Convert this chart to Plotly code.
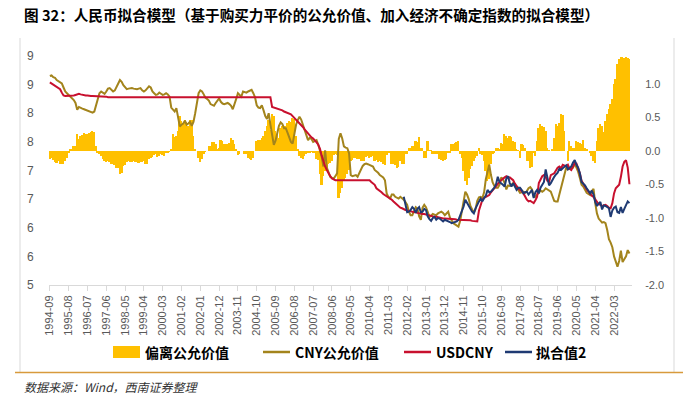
import plotly.graph_objects as go
import pandas as pd

# ---------------- data (monthly, 1994-09 .. 2022-12) ----------------
months = pd.date_range("1994-09-01", periods=340, freq="MS").strftime("%Y-%m").tolist()

tick_labels = ["1994-09", "1995-08", "1996-07", "1997-06", "1998-05", "1999-04", "2000-03",
               "2001-02", "2002-01", "2002-12", "2003-11", "2004-10", "2005-09", "2006-08",
               "2007-07", "2008-06", "2009-05", "2010-04", "2011-03", "2012-02", "2013-01",
               "2013-12", "2014-11", "2015-10", "2016-09", "2017-08", "2018-07", "2019-06",
               "2020-05", "2021-04", "2022-03"]

left_tick_vals = [5, 5.5, 6, 6.5, 7, 7.5, 8, 8.5, 9]
left_tick_text = ["5", "6", "6", "7", "7", "8", "8", "9", "9"]
right_tick_vals = [-2.0, -1.5, -1.0, -0.5, 0.0, 0.5, 1.0]
right_tick_text = ["-2.0", "-1.5", "-1.0", "-0.5", "0.0", "0.5", "1.0"]

# 偏离公允价值 (right axis)
deviation = [
    -0.12, -0.10, -0.14, -0.17,
    -0.18, -0.15, -0.20, -0.19, -0.20, -0.15, -0.10, -0.03, 0.02, 0.03, 0.07, 0.07,
    0.25, 0.18, 0.22, 0.24, 0.27, 0.26, 0.25, 0.27, 0.29, 0.30, 0.28, 0.08,
    -0.02, -0.05, -0.08, -0.12, -0.15, -0.16, -0.15, -0.17, -0.19, -0.20, -0.21, -0.25,
    -0.26, -0.34, -0.33, -0.23, -0.21, -0.16, -0.15, -0.16, -0.16, -0.15, -0.17, -0.16,
    -0.18, -0.17, -0.16, -0.15, -0.19, -0.19, -0.12, -0.10, -0.09, -0.06, -0.05, -0.09,
    -0.08, -0.05, -0.06, -0.07, -0.03, -0.02, -0.01, 0.02, 0.25, 0.21, 0.23, 0.30,
    0.52, 0.45, 0.42, 0.47, 0.44, 0.37, 0.46, 0.47, 0.22, 0.03, 0.00, -0.10,
    -0.16, -0.12, -0.05, -0.01, 0.00, 0.07, 0.07, 0.14, 0.13, 0.11, 0.02, 0.05,
    0.16, 0.15, 0.11, 0.10, 0.11, 0.12, 0.19, 0.16, 0.10, 0.03, -0.06, -0.04,
    0.00, 0.00, -0.05, -0.05, -0.10, -0.12, -0.13, -0.11, 0.00, 0.15, 0.16, 0.17,
    0.19, 0.22, 0.30, 0.37, 0.46, 0.32, 0.55, 0.52, 0.30, 0.25, 0.20, 0.35,
    0.37, 0.34, 0.38, 0.42, 0.45, 0.44, 0.50, 0.48, 0.22, 0.02, -0.08, -0.11,
    -0.12, -0.08, -0.04, -0.02, -0.02, -0.01, -0.02, -0.03, -0.12, -0.14, -0.35, -0.50,
    -0.38, -0.30, -0.25, -0.20, -0.18, -0.15, -0.06, -0.05, -0.06, -0.70, -0.62, -0.55,
    -0.45, -0.40, -0.35, -0.28, -0.15, -0.13, -0.10, -0.10, -0.12, -0.12, -0.15, -0.15,
    -0.15, -0.09, -0.08, -0.10, -0.09, -0.08, -0.15, -0.14, -0.16, -0.15, -0.17, -0.20,
    -0.21, -0.06, -0.02, -0.03, -0.20, -0.19, -0.21, -0.25, -0.24, -0.15, -0.20, -0.19,
    -0.05, -0.04, 0.05, 0.04, 0.08, 0.07, 0.15, 0.14, 0.21, 0.05, 0.04, -0.11,
    -0.10, 0.15, 0.01, 0.01, -0.05, -0.05, -0.04, -0.05, -0.12, -0.13, -0.15, -0.14,
    -0.12, -0.03, -0.02, 0.10, 0.11, 0.12, 0.13, 0.15, -0.05, -0.10, -0.30, -0.45,
    -0.50, -0.40, -0.27, -0.22, -0.15, -0.10, -0.08, 0.05, -0.05, -0.06, -0.15, -0.30,
    -0.45, -0.42, -0.20, -0.05, -0.02, 0.05, 0.05, 0.02, 0.12, 0.11, 0.25, 0.22,
    0.20, 0.22, 0.21, 0.15, 0.14, 0.02, 0.01, -0.10, 0.10, 0.09, 0.05, -0.15,
    -0.15, -0.25, -0.24, -0.02, -0.08, 0.15, 0.35, 0.40, 0.38, 0.36, 0.30, 0.05,
    0.01, 0.00, 0.02, 0.20, 0.40, 0.38, 0.42, 0.55, 0.53, 0.30, 0.00, -0.15,
    0.15, 0.08, 0.05, 0.05, 0.15, 0.13, 0.12, 0.10, 0.17, 0.05, 0.02, 0.00,
    -0.03, -0.08, -0.15, -0.18, 0.15, 0.35, 0.40, 0.38, 0.28, 0.45, 0.55, 0.62,
    0.70, 0.78, 1.00, 1.08, 1.30, 1.38, 1.40, 1.40, 1.39, 1.40, 1.39, 1.38,
]

# CNY公允价值 (left axis)
cny_fair = [
    8.65, 8.66, 8.63, 8.62,
    8.58, 8.56, 8.55, 8.52, 8.45, 8.38, 8.35, 8.32, 8.29, 8.26, 8.23, 8.18,
    8.06, 8.11, 8.09, 8.08, 8.07, 8.06, 8.05, 8.04, 8.02, 8.01, 8.03, 8.15,
    8.28, 8.35, 8.38, 8.36, 8.34, 8.38, 8.43, 8.44, 8.40, 8.38, 8.40, 8.45,
    8.52, 8.58, 8.55, 8.49, 8.45, 8.42, 8.43, 8.44, 8.44, 8.43, 8.42, 8.42,
    8.43, 8.44, 8.40, 8.38, 8.40, 8.43, 8.47, 8.45, 8.38, 8.35, 8.32, 8.33,
    8.36, 8.34, 8.32, 8.33, 8.35, 8.33, 8.29, 8.10, 8.06, 8.03, 8.09, 7.90,
    7.77, 7.80, 7.82, 7.87, 7.80, 7.82, 7.85, 7.78, 7.85, 8.00, 8.17, 8.35,
    8.40, 8.38, 8.33, 8.27, 8.25, 8.22, 8.16, 8.14, 8.13, 8.18, 8.23, 8.26,
    8.20, 8.17, 8.16, 8.17, 8.18, 8.16, 8.13, 8.07, 8.15, 8.25, 8.35, 8.32,
    8.29, 8.38, 8.37, 8.36, 8.38, 8.40, 8.41, 8.35, 8.28, 8.14, 8.10, 8.09,
    8.14, 8.05, 7.95, 7.90, 8.00, 7.80, 7.62, 7.45, 7.52, 7.68, 7.78, 7.84,
    7.81, 7.74, 7.74, 7.66, 7.56, 7.50, 7.47, 7.62, 7.80, 7.88, 7.94, 7.89,
    7.80, 7.68, 7.60, 7.53, 7.57, 7.55, 7.50, 7.52, 7.53, 7.45, 7.36, 7.24,
    7.07, 7.35, 7.05, 6.95, 6.89, 6.87, 6.86, 6.90, 6.95, 7.55, 7.65, 7.56,
    7.42, 7.40, 7.39, 7.30, 6.92, 6.90, 6.91, 6.92, 6.89, 6.95, 7.01, 7.08,
    7.11, 7.12, 7.11, 7.10, 7.09, 7.07, 7.01, 6.99, 6.96, 6.92, 6.90, 6.88,
    6.83, 6.60, 6.54, 6.51, 6.58, 6.58, 6.54, 6.52, 6.51, 6.54, 6.52, 6.49,
    6.45, 6.40, 6.28, 6.22, 6.22, 6.30, 6.36, 6.33, 6.20, 6.14, 6.35, 6.40,
    6.36, 6.28, 6.19, 6.21, 6.24, 6.23, 6.22, 6.25, 6.26, 6.28, 6.26, 6.22,
    6.25, 6.28, 6.18, 6.12, 6.08, 6.06, 6.04, 6.02, 6.12, 6.28, 6.47, 6.63,
    6.58, 6.50, 6.38, 6.32, 6.26, 6.33, 6.47, 6.53, 6.54, 6.52, 6.62, 6.85,
    6.97, 7.10, 6.92, 6.79, 6.73, 6.70, 6.70, 6.75, 6.88, 6.85, 6.78, 6.67,
    6.74, 6.73, 6.75, 6.78, 6.73, 6.70, 6.66, 6.61, 6.62, 6.63, 6.61, 6.64,
    6.69, 6.71, 6.67, 6.55, 6.54, 6.58, 6.60, 6.65, 6.63, 6.65, 6.69, 6.67,
    6.65, 6.63, 6.55, 6.47, 6.46, 6.46, 6.58, 6.70, 6.80, 6.90, 7.05, 7.02,
    7.03, 7.04, 7.05, 7.12, 7.05, 6.98, 6.87, 6.75, 6.72, 6.67, 6.61, 6.59,
    6.57, 6.64, 6.68, 6.43, 6.25, 6.16, 6.12, 6.09, 6.10, 6.08, 5.96, 5.80,
    5.74, 5.66, 5.50, 5.40, 5.32, 5.42, 5.60, 5.40, 5.45, 5.50, 5.61, 5.55,
]

# USDCNY (left axis)
usdcny = [
    8.54, 8.52, 8.50, 8.48,
    8.46, 8.45, 8.42, 8.36, 8.31, 8.30, 8.30, 8.30, 8.30, 8.31, 8.31, 8.32,
    8.33, 8.34, 8.33, 8.32, 8.32, 8.31, 8.31, 8.30, 8.30, 8.30, 8.30, 8.30,
    8.29, 8.29, 8.29, 8.29, 8.29, 8.29, 8.28, 8.28, 8.28, 8.28, 8.28, 8.28,
    8.28, 8.28, 8.28, 8.28, 8.28, 8.28, 8.28, 8.28, 8.28, 8.28, 8.28, 8.28,
    8.28, 8.28, 8.28, 8.28, 8.28, 8.28, 8.28, 8.28, 8.28, 8.28, 8.28, 8.28,
    8.28, 8.28, 8.28, 8.28, 8.28, 8.28, 8.28, 8.28, 8.28, 8.28, 8.28, 8.28,
    8.28, 8.28, 8.28, 8.28, 8.28, 8.28, 8.28, 8.28, 8.28, 8.28, 8.28, 8.28,
    8.28, 8.28, 8.28, 8.28, 8.28, 8.28, 8.28, 8.28, 8.28, 8.28, 8.28, 8.28,
    8.28, 8.28, 8.28, 8.28, 8.28, 8.28, 8.28, 8.28, 8.28, 8.28, 8.28, 8.28,
    8.28, 8.28, 8.28, 8.28, 8.28, 8.28, 8.28, 8.28, 8.28, 8.28, 8.28, 8.28,
    8.28, 8.28, 8.28, 8.28, 8.28, 8.28, 8.11, 8.10, 8.09, 8.08, 8.08, 8.07,
    8.05, 8.03, 8.02, 8.01, 8.00, 7.98, 7.95, 7.92, 7.89, 7.86, 7.83, 7.80,
    7.76, 7.72, 7.68, 7.64, 7.61, 7.58, 7.56, 7.53, 7.49, 7.45, 7.38, 7.26,
    7.14, 7.07, 7.01, 6.95, 6.90, 6.86, 6.84, 6.83, 6.83, 6.83, 6.83, 6.83,
    6.83, 6.83, 6.83, 6.83, 6.83, 6.83, 6.83, 6.83, 6.83, 6.83, 6.83, 6.83,
    6.83, 6.83, 6.83, 6.83, 6.80, 6.78, 6.75, 6.69, 6.67, 6.65, 6.62, 6.59,
    6.57, 6.56, 6.54, 6.51, 6.49, 6.46, 6.43, 6.40, 6.37, 6.35, 6.34, 6.32,
    6.31, 6.30, 6.30, 6.29, 6.28, 6.28, 6.27, 6.26, 6.25, 6.25, 6.24, 6.24,
    6.23, 6.22, 6.22, 6.21, 6.20, 6.19, 6.19, 6.18, 6.17, 6.16, 6.16, 6.16,
    6.16, 6.16, 6.16, 6.16, 6.16, 6.15, 6.14, 6.14, 6.14, 6.13, 6.13, 6.13,
    6.13, 6.13, 6.13, 6.12, 6.12, 6.11, 6.11, 6.30, 6.40, 6.49, 6.52, 6.54,
    6.55, 6.57, 6.62, 6.66, 6.69, 6.72, 6.76, 6.80, 6.83, 6.86, 6.88, 6.90,
    6.87, 6.88, 6.86, 6.83, 6.77, 6.72, 6.69, 6.66, 6.64, 6.60, 6.54, 6.49,
    6.46, 6.47, 6.45, 6.43, 6.48, 6.54, 6.78, 6.83, 6.90, 6.92, 6.89, 6.82,
    6.80, 6.92, 6.94, 6.95, 7.00, 7.05, 7.07, 7.04, 7.10, 7.08, 7.07, 7.10,
    7.03, 7.01, 7.07, 7.13, 7.12, 7.05, 6.95, 6.82, 6.76, 6.72, 6.67, 6.63,
    6.60, 6.56, 6.54, 6.50, 6.45, 6.41, 6.40, 6.38, 6.39, 6.40, 6.38, 6.35,
    6.34, 6.43, 6.60, 6.69, 6.72, 6.75, 6.89, 7.07, 7.15, 7.18, 7.05, 6.76,
]

# 拟合值2 (left axis), starts 2011-12
fit_start = "2011-12"
fit2 = [
    6.54,
    6.40, 6.27, 6.28, 6.31, 6.36, 6.33, 6.26, 6.33, 6.36, 6.27, 6.28, 6.33,
    6.31, 6.20, 6.15, 6.12, 6.17, 6.19, 6.14, 6.17, 6.16, 6.13, 6.11, 6.14,
    6.13, 6.11, 6.10, 6.08, 6.09, 6.09, 6.11, 6.14, 6.22, 6.31, 6.37, 6.49,
    6.43, 6.37, 6.33, 6.28, 6.25, 6.34, 6.41, 6.46, 6.51, 6.46, 6.52, 6.56,
    6.66, 6.62, 6.63, 6.66, 6.70, 6.76, 6.89, 6.80, 6.78, 6.75, 6.72, 6.86,
    6.90, 6.78, 6.72, 6.78, 6.72, 6.66, 6.70, 6.70, 6.66, 6.60, 6.62, 6.63,
    6.58, 6.62, 6.66, 6.52, 6.62, 6.66, 6.60, 6.70, 6.75, 6.80, 7.02, 6.89,
    6.74, 6.78, 6.85, 6.89, 6.93, 6.96, 7.03, 7.01, 7.04, 7.07, 7.09, 7.02,
    7.04, 7.07, 7.14, 7.18, 7.10, 7.05, 6.95, 6.80, 6.77, 6.74, 6.69, 6.64,
    6.60, 6.65, 6.58, 6.45, 6.38, 6.42, 6.45, 6.32, 6.39, 6.38, 6.36, 6.34,
    6.19, 6.30, 6.35, 6.37, 6.27, 6.26, 6.36, 6.26, 6.33, 6.40, 6.46, 6.43,
]
fit_months = months[months.index(fit_start):]

# ---------------- layout helpers (pixel -> paper) ----------------
W, H = 698, 397
L, R, T, B = 49, 632, 56, 285


def px(x):
    return (x - L) / (R - L)


def py(y):
    return (B - y) / (B - T)


C_BAR = "#FFC000"
C_FAIR = "#A3841C"
C_USD = "#C8102E"
C_FIT = "#1F3A73"
TICK_FONT = dict(family="Liberation Sans, Arial, sans-serif", size=11, color="#595959")
CJK = "Noto Sans CJK SC, sans-serif"
NOGAP = "rgba(0,0,0,0)"

fig = go.Figure()
fig.add_trace(go.Bar(x=months, y=deviation, yaxis="y", marker=dict(color=C_BAR, line=dict(width=0)),
                     name="偏离公允价值", showlegend=False))
fig.add_trace(go.Scatter(x=months, y=cny_fair, yaxis="y2", mode="lines",
                         line=dict(color=C_FAIR, width=2), name="CNY公允价值", showlegend=False))
fig.add_trace(go.Scatter(x=months, y=usdcny, yaxis="y2", mode="lines",
                         line=dict(color=C_USD, width=2), name="USDCNY", showlegend=False))
fig.add_trace(go.Scatter(x=fit_months, y=fit2, yaxis="y2", mode="lines",
                         line=dict(color=C_FIT, width=2), name="拟合值2", showlegend=False))

fig.update_layout(
    width=W, height=H,
    margin=dict(l=L, r=W - R, t=T, b=H - B, pad=0),
    paper_bgcolor="white", plot_bgcolor="white",
    bargap=0,
    xaxis=dict(type="category", range=[-0.5, len(months) - 0.5 + 1],
               tickmode="array", tickvals=tick_labels, ticktext=tick_labels,
               tickangle=-90, tickfont=TICK_FONT,
               showgrid=False, zeroline=False, showline=True, linecolor="#D9D9D9", linewidth=1,
               ticks="outside", ticklen=5, tickcolor="#D9D9D9"),
    yaxis=dict(side="right", range=[-2.0, 1.418], tickmode="array",
               tickvals=right_tick_vals, ticktext=right_tick_text, tickfont=TICK_FONT,
               showgrid=False, zeroline=False, showline=False,
               ticks="outside", ticklen=10, tickcolor=NOGAP),
    yaxis2=dict(side="left", overlaying="y", range=[5, 9], tickmode="array",
                tickvals=left_tick_vals, ticktext=left_tick_text,
                tickfont=dict(TICK_FONT, size=12),
                showgrid=False, zeroline=False, showline=False,
                ticks="outside", ticklen=12, tickcolor=NOGAP),
    font=dict(family=CJK),
)

# frame and footer rule
fig.add_shape(type="line", xref="paper", yref="paper", x0=px(20), x1=px(20), y0=py(38), y1=py(372),
              line=dict(color="#D9D9D9", width=1))
fig.add_shape(type="line", xref="paper", yref="paper", x0=px(674), x1=px(674), y0=py(38), y1=py(372),
              line=dict(color="#D9D9D9", width=1))
fig.add_shape(type="line", xref="paper", yref="paper", x0=px(15), x1=px(683), y0=py(372.5), y1=py(372.5),
              line=dict(color="#D89A3C", width=1.5))

# title
fig.add_annotation(xref="paper", yref="paper", x=px(22), y=py(14), xanchor="left", yanchor="middle",
                   text="<b>图 32：人民币拟合模型（基于购买力平价的公允价值、加入经济不确定指数的拟合模型）</b>",
                   showarrow=False, font=dict(family=CJK, size=14.6, color="#000000"))

# source
fig.add_annotation(xref="paper", yref="paper", x=px(22), y=py(386), xanchor="left", yanchor="middle",
                   text="<i>数据来源：Wind，西南证券整理</i>", showarrow=False,
                   font=dict(family=CJK, size=12, color="#333333"))

# manual legend
LY = 352
fig.add_shape(type="rect", xref="paper", yref="paper", x0=px(113), x1=px(140), y0=py(358), y1=py(346),
              fillcolor=C_BAR, line=dict(width=0))
legend_items = [(263, 290, C_FAIR), (404, 431, C_USD), (505, 532, C_FIT)]
for x0, x1, c in legend_items:
    fig.add_shape(type="line", xref="paper", yref="paper", x0=px(x0), x1=px(x1), y0=py(LY), y1=py(LY),
                  line=dict(color=c, width=2.5))
legend_texts = [(143, "偏离公允价值"), (293, "CNY公允价值"), (434, "USDCNY"), (534, "拟合值2")]
for x, t in legend_texts:
    fig.add_annotation(xref="paper", yref="paper", x=px(x), y=py(LY), xanchor="left", yanchor="middle",
                       text="<b>" + t + "</b>", showarrow=False,
                       font=dict(family=CJK, size=14, color="#000000"))

fig.write_html("out.html", config={"displayModeBar": False},
               post_script="document.body.style.margin='0';document.body.style.overflow='hidden';")
